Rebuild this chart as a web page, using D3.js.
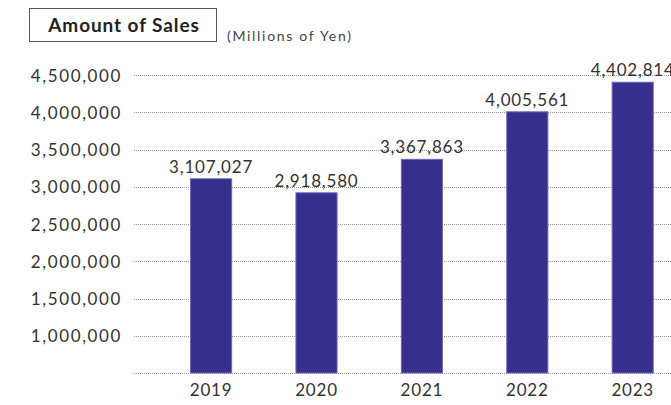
<!DOCTYPE html>
<html>
<head>
<meta charset="utf-8">
<script src="https://cdn.jsdelivr.net/npm/d3@7"></script>
<style>
  body { margin: 0; background: #fff; }
  svg { font-family: Lato, sans-serif; }
</style>
</head>
<body>
<svg width="671" height="405"></svg>
<script>
var years = ["2019", "2020", "2021", "2022", "2023"];
var sales = [3107027, 2918580, 3367863, 4005561, 4402814];
var yTicks = [500000, 1000000, 1500000, 2000000, 2500000, 3000000, 3500000, 4000000, 4500000];

var svg = d3.select("svg");
var fmt = d3.format(",");

var x = d3.scaleBand().domain(years).range([158.4, 685.4]).paddingInner(0.61).paddingOuter(0.305);
var y = d3.scaleLinear().domain([500000, 4500000]).range([373, 75]);

// title box
svg.append("rect")
  .attr("x", 29.5).attr("y", 8.5).attr("width", 187).attr("height", 33)
  .attr("fill", "#fff").attr("stroke", "#555").attr("stroke-width", 1);
svg.append("text")
  .attr("x", 124).attr("y", 32).attr("text-anchor", "middle")
  .attr("font-size", 19).attr("font-weight", "bold").attr("fill", "#222")
  .attr("letter-spacing", 0.9)
  .text("Amount of Sales");
svg.append("text")
  .attr("x", 227).attr("y", 41)
  .attr("font-size", 14).attr("fill", "#444").attr("letter-spacing", 1.7)
  .text("(Millions of Yen)");

// grid lines
svg.append("g").selectAll("line")
  .data(yTicks).enter().append("line")
  .attr("x1", 134).attr("x2", 671)
  .attr("y1", function(d) { return Math.round(y(d)) + 0.5; })
  .attr("y2", function(d) { return Math.round(y(d)) + 0.5; })
  .attr("stroke", "#999").attr("stroke-width", 1).attr("stroke-dasharray", "1,1");

// y axis labels
var yAxis = d3.axisLeft(y).tickValues(yTicks.slice(1)).tickFormat(fmt).tickSize(0).tickPadding(0);
var ya = svg.append("g").attr("transform", "translate(122,0)").call(yAxis);
ya.select(".domain").remove();
ya.selectAll("text").attr("font-size", 17).attr("font-family", "Lato, sans-serif")
  .attr("fill", "#333").attr("letter-spacing", 1.6).attr("dy", "0.36em");

// bars
svg.append("g").selectAll("rect")
  .data(sales).enter().append("rect")
  .attr("x", function(d, i) { return x(years[i]); })
  .attr("y", function(d) { return y(d); })
  .attr("width", x.bandwidth())
  .attr("height", function(d) { return y(500000) - y(d); })
  .attr("fill", "#372f8c")
  .attr("stroke", "#6c66b8").attr("stroke-width", 1);

// value labels
svg.append("g").selectAll("text")
  .data(sales).enter().append("text")
  .attr("x", function(d, i) { return x(years[i]) + x.bandwidth() / 2; })
  .attr("y", function(d) { return y(d) - 6; })
  .attr("text-anchor", "middle")
  .attr("font-size", 17).attr("fill", "#333").attr("letter-spacing", 0.8)
  .text(function(d) { return fmt(d); });

// x axis labels
var xAxis = d3.axisBottom(x).tickSize(0).tickPadding(0);
var xa = svg.append("g").attr("transform", "translate(0,384)").call(xAxis);
xa.select(".domain").remove();
xa.selectAll("text").attr("font-size", 17).attr("font-family", "Lato, sans-serif")
  .attr("fill", "#333").attr("letter-spacing", 0.8);
</script>
</body>
</html>
